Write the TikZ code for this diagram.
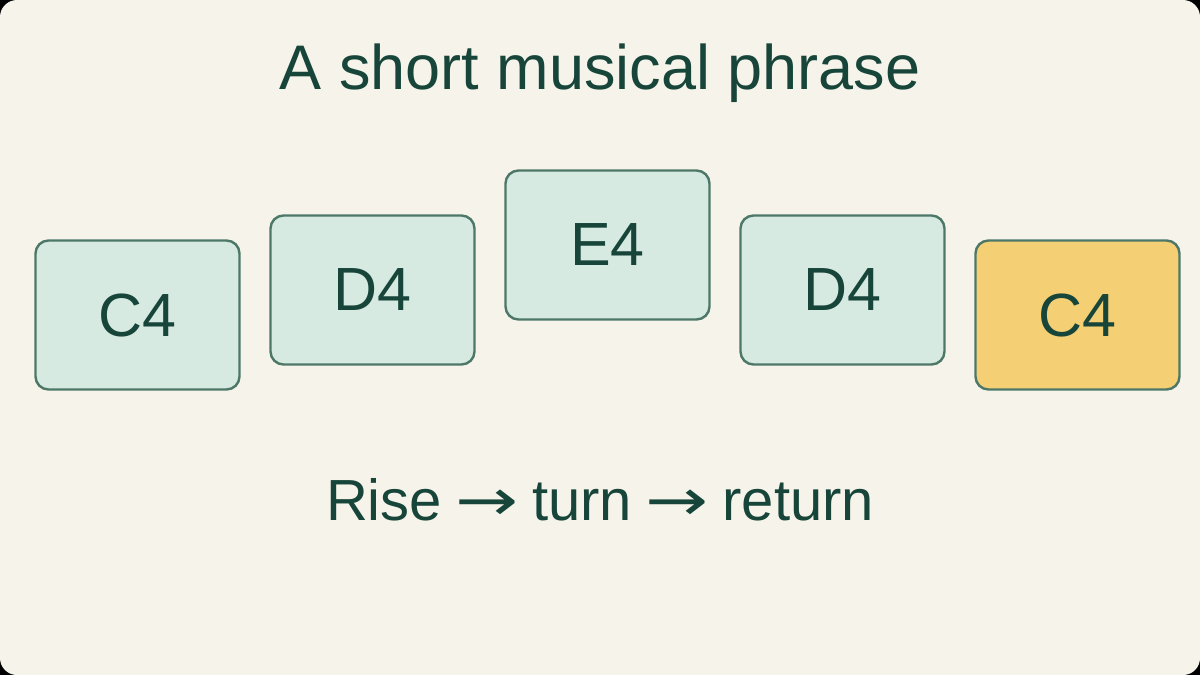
\documentclass[tikz,border=0pt]{standalone}
\usepackage{fontspec}
\setmainfont{Liberation Sans}
\newfontfamily\arrowfont{DejaVu Sans}
\definecolor{bgc}{HTML}{F6F4EA}
\definecolor{txt}{HTML}{17453A}
\definecolor{edge}{HTML}{4D7868}
\definecolor{notefill}{HTML}{D7EAE2}
\definecolor{endfill}{HTML}{F4CF74}
\newcommand{\longarr}{\makebox[1em]{\scalebox{1.3}[1]{\arrowfont →}}}
\tikzset{
  note/.style={draw=edge, line width=2.4pt, fill=notefill, rounded corners=13pt,
    minimum width=204pt, minimum height=149pt, inner sep=0pt, text=txt,
    font=\fontsize{61}{61}\selectfont},
  endnote/.style={note, fill=endfill},
  label/.style={text=txt, inner sep=0pt}
}
\begin{document}
\begin{tikzpicture}[x=1pt,y=-1pt]
\fill[black] (0,0) rectangle (1200,675);
\fill[bgc, rounded corners=17pt] (0,0) rectangle (1200,675);
\useasboundingbox (0,0) rectangle (1200,675);
\node[label, anchor=base, font=\fontsize{63}{63}\selectfont] (title) at (600,89) {A short musical phrase};
\node[note] (n1) at (137.5,315) {C4};
\node[note] (n2) at (372.5,290) {D4};
\node[note] (n3) at (607.5,245) {E4};
\node[note] (n4) at (842.5,290) {D4};
\node[endnote] (n5) at (1077.5,315) {C4};
\node[label, anchor=base, font=\fontsize{58}{58}\selectfont] (caption) at (600,520) {Rise \longarr{} turn \longarr{} return};
\end{tikzpicture}
\end{document}
